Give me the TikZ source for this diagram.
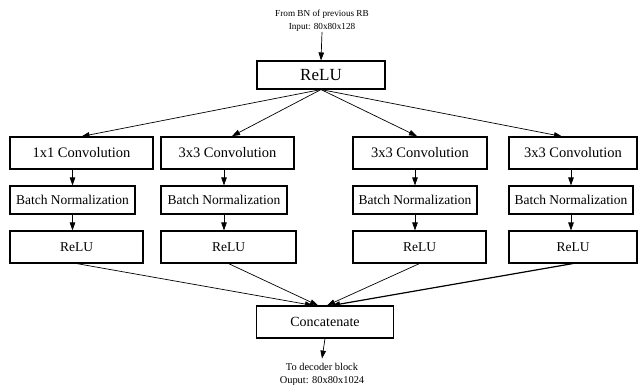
\documentclass[tikz,border=0pt]{standalone}
\usepackage{fontspec}
\setmainfont{Liberation Serif}
\usetikzlibrary{arrows.meta,calc}
\begin{document}
\begin{tikzpicture}[x=1pt,y=-1pt,
  box/.style={draw,line width=1.1pt,inner sep=0pt,anchor=center},
  thickbox/.style={box,line width=1.7pt},
  conn/.style={line width=0.7pt,-{Triangle[length=8pt,width=5.5pt]}},
  convf/.style={font=\fontsize{14.5}{16}\selectfont},
  bnf/.style={font=\fontsize{13.5}{15}\selectfont},
  reluf/.style={font=\fontsize{13.5}{15}\selectfont},
  lbl/.style={align=center,inner sep=0pt}
]
\useasboundingbox (0,0) rectangle (638,385);
% input text and top ReLU
\node[lbl,font=\fontsize{9.2}{13}\selectfont] (in) at (322,21) {From BN of previous RB\\Input: 80x80x128};
\node[box,minimum width=128pt,minimum height=28pt,font=\fontsize{17}{18}\selectfont] (r0) at (321,75) {ReLU};
% column 1
\node[box,convf,minimum width=143pt,minimum height=32pt] (c1) at (81.5,153) {1x1 Convolution};
\node[box,bnf,minimum width=125pt,minimum height=28pt] (b1) at (72.5,200) {Batch Normalization};
\node[box,reluf,minimum width=133pt,minimum height=32pt] (u1) at (76.5,247) {ReLU};
% column 2
\node[thickbox,convf,minimum width=133pt,minimum height=32pt] (c2) at (227.5,153) {3x3 Convolution};
\node[box,bnf,minimum width=126pt,minimum height=28pt] (b2) at (224,200) {Batch Normalization};
\node[box,reluf,minimum width=135pt,minimum height=32pt] (u2) at (228.5,247) {ReLU};
% column 3
\node[thickbox,convf,minimum width=134pt,minimum height=32pt] (c3) at (420,153) {3x3 Convolution};
\node[box,bnf,minimum width=124pt,minimum height=28pt] (b3) at (415,200) {Batch Normalization};
\node[box,reluf,minimum width=133pt,minimum height=32pt] (u3) at (419.5,247) {ReLU};
% column 4
\node[box,convf,minimum width=128pt,minimum height=32pt] (c4) at (573,153) {3x3 Convolution};
\node[box,bnf,minimum width=124pt,minimum height=28pt] (b4) at (571,200) {Batch Normalization};
\node[box,reluf,minimum width=128pt,minimum height=32pt] (u4) at (573,247) {ReLU};
% concatenate and output text
\node[box,font=\fontsize{14}{15}\selectfont,minimum width=137pt,minimum height=32pt] (cc) at (325,322) {Concatenate};
\node[lbl,font=\fontsize{10.4}{13}\selectfont] (out) at (322,374) {To decoder block\\Ouput: 80x80x1024};
% connector end points
\coordinate (t1) at (c1.north);
\coordinate (t2) at ($(c2.north)+(4.5,0)$);
\coordinate (t3) at ($(c3.north)+(-3,0)$);
\coordinate (t4) at ($(c4.north)+(-11,0)$);
\coordinate (k1) at ($(cc.north)+(-12,0)$);
\coordinate (k2) at ($(cc.north)+(-7,0)$);
\coordinate (k3) at ($(cc.north)+(2,0)$);
\coordinate (k4) at ($(cc.north)+(7,0)$);
% connectors
\draw[conn] (in.south) -- (r0.north);
\foreach \i in {1,2,3,4}{
  \draw[conn] (r0.south) -- (t\i);
  \draw[conn] (c\i.south -| b\i.north) -- (b\i.north);
  \draw[conn] (b\i.south) -- (u\i.north -| b\i.south);
}
\draw[conn] (u1.south) -- (k1);
\draw[conn] (u2.south) -- (k2);
\draw[conn] (u3.south) -- (k3);
\draw[conn,line width=1.2pt] (u4.south) -- (k4);
\draw[conn] (cc.south) -- ($(out.north)+(0,-4)$);
\end{tikzpicture}
\end{document}
